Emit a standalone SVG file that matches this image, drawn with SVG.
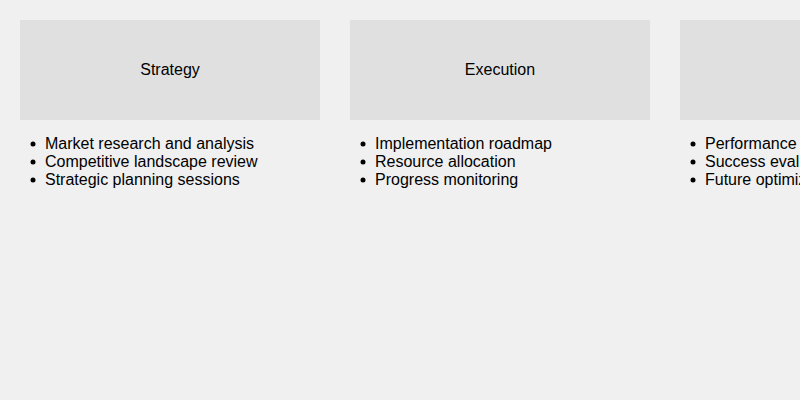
<svg xmlns="http://www.w3.org/2000/svg" width="800" height="400" viewBox="0 0 800 400">
<style>
.box{fill:#e0e0e0}
.t{font-family:"Liberation Sans",Arial,sans-serif;font-size:16px;fill:#000}
.c{text-anchor:middle}
.b{fill:#000}
</style>
<rect width="800" height="400" fill="#f0f0f0"/>
<g id="connectors"></g>
<g id="strategy">
<rect class="box" x="20" y="20" width="300" height="100"/>
<text class="t c" x="170" y="75">Strategy</text>
<circle class="b" cx="33" cy="144" r="2.5"/><text class="t" x="45" y="149">Market research and analysis</text>
<circle class="b" cx="33" cy="162" r="2.5"/><text class="t" x="45" y="167">Competitive landscape review</text>
<circle class="b" cx="33" cy="180" r="2.5"/><text class="t" x="45" y="185">Strategic planning sessions</text>
</g>
<g id="execution">
<rect class="box" x="350" y="20" width="300" height="100"/>
<text class="t c" x="500" y="75">Execution</text>
<circle class="b" cx="363" cy="144" r="2.5"/><text class="t" x="375" y="149">Implementation roadmap</text>
<circle class="b" cx="363" cy="162" r="2.5"/><text class="t" x="375" y="167">Resource allocation</text>
<circle class="b" cx="363" cy="180" r="2.5"/><text class="t" x="375" y="185">Progress monitoring</text>
</g>
<g id="third">
<rect class="box" x="680" y="20" width="300" height="100"/>
<circle class="b" cx="693" cy="144" r="2.5"/><text class="t" x="705" y="149">Performance</text>
<circle class="b" cx="693" cy="162" r="2.5"/><text class="t" x="705" y="167">Success eval</text>
<circle class="b" cx="693" cy="180" r="2.5"/><text class="t" x="705" y="185">Future optimiz</text>
</g>
</svg>
